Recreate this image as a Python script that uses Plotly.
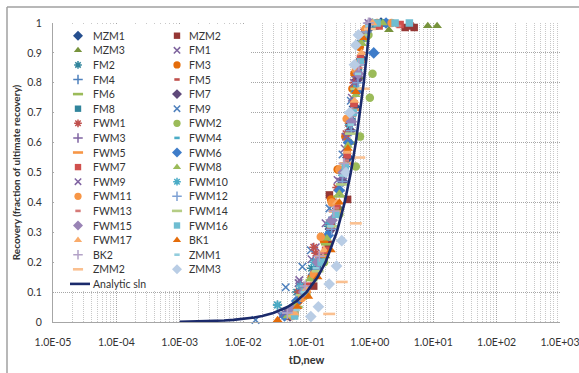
import plotly.graph_objects as go

# ---------------- axis ticks ----------------
X_TICK_VALS = [1e-5, 1e-4, 1e-3, 1e-2, 1e-1, 1, 10, 100, 1000]
X_TICK_TEXT = ["1.0E-05", "1.0E-04", "1.0E-03", "1.0E-02", "1.0E-01",
               "1.0E+00", "1.0E+01", "1.0E+02", "1.0E+03"]
Y_TICK_VALS = [0, 0.1, 0.2, 0.3, 0.4, 0.5, 0.6, 0.7, 0.8, 0.9, 1.0]
Y_TICK_TEXT = ["0", "0.1", "0.2", "0.3", "0.4", "0.5", "0.6", "0.7", "0.8", "0.9", "1"]

SERIES_NAMES = ["MZM1", "MZM2", "MZM3", "FM1", "FM2", "FM3", "FM4", "FM5", "FM6",
                "FM7", "FM8", "FM9", "FWM1", "FWM2", "FWM3", "FWM4", "FWM5", "FWM6",
                "FWM7", "FWM8", "FWM9", "FWM10", "FWM11", "FWM12", "FWM13", "FWM14",
                "FWM15", "FWM16", "FWM17", "BK1", "BK2", "ZMM1", "ZMM2", "ZMM3"]

# ---------------- data (tD,new ; recovery) ----------------
MZM1_T = [0.05, 0.09, 0.17, 0.31, 0.45, 0.57, 0.74, 1.05, 1.5]
MZM1_R = [0.03, 0.09, 0.21, 0.38, 0.55, 0.72, 0.88, 0.99, 1.0]
MZM2_T = [0.065, 0.13, 0.22, 0.23, 0.445, 0.47, 0.64, 0.88, 3.6, 4.3, 5.0]
MZM2_R = [0.03, 0.12, 0.26, 0.425, 0.41, 0.665, 0.84, 0.975, 0.985, 0.99, 0.985]
MZM3_T = [0.05, 0.1, 0.2, 0.33, 0.5, 0.68, 2.0, 8.2, 11.5]
MZM3_R = [0.02, 0.09, 0.22, 0.38, 0.6, 0.82, 0.977, 0.99, 0.99]
FM1_T = [0.04, 0.075, 0.14, 0.26, 0.4, 0.52, 0.7, 0.95]
FM1_R = [0.02, 0.13, 0.25, 0.4, 0.58, 0.75, 0.93, 1.0]
FM2_T = [0.035, 0.07, 0.12, 0.22, 0.36, 0.5, 0.66, 1.1, 1.8]
FM2_R = [0.057, 0.1, 0.18, 0.32, 0.5, 0.68, 0.86, 1.0, 1.0]
FM3_T = [0.05, 0.075, 0.12, 0.19, 0.244, 0.31, 0.41, 0.53, 0.57, 0.69, 1.3]
FM3_R = [0.02, 0.07, 0.15, 0.27, 0.41, 0.51, 0.62, 0.78, 0.83, 0.92, 1.0]
FM4_T = [0.045, 0.085, 0.155, 0.27, 0.4, 0.55, 0.68, 1.0]
FM4_R = [0.03, 0.1, 0.2, 0.35, 0.52, 0.7, 0.86, 0.99]
FM5_T = [0.06, 0.1, 0.18, 0.29, 0.43, 0.58, 0.75, 1.1]
FM5_R = [0.04, 0.12, 0.22, 0.36, 0.55, 0.73, 0.9, 1.0]
FM6_T = [0.07, 0.12, 0.21, 0.33, 0.48, 0.62, 0.78, 1.4]
FM6_R = [0.05, 0.14, 0.26, 0.42, 0.6, 0.77, 0.94, 1.0]
FM7_T = [0.055, 0.08, 0.14, 0.24, 0.37, 0.49, 0.63, 0.86]
FM7_R = [0.02, 0.08, 0.17, 0.31, 0.47, 0.64, 0.81, 0.97]
FM8_T = [0.06, 0.09, 0.15, 0.25, 0.38, 0.52, 0.66, 1.2, 1.6]
FM8_R = [0.03, 0.09, 0.19, 0.33, 0.49, 0.67, 0.84, 0.99, 1.0]
FM9_T = [0.0157, 0.047, 0.086, 0.117, 0.23, 0.37, 0.5, 0.72]
FM9_R = [0.007, 0.116, 0.185, 0.24, 0.38, 0.56, 0.74, 0.95]
FWM1_T = [0.05, 0.075, 0.13, 0.14, 0.3, 0.42, 0.56, 0.8]
FWM1_R = [0.03, 0.1, 0.25, 0.23, 0.45, 0.63, 0.8, 0.97]
FWM2_T = [0.065, 0.1, 0.19, 0.33, 0.6, 0.7, 1.0, 1.1, 0.95]
FWM2_R = [0.03, 0.09, 0.2, 0.36, 0.52, 0.62, 0.75, 0.83, 0.96]
FWM3_T = [0.055, 0.085, 0.15, 0.25, 0.36, 0.5, 0.63, 0.9]
FWM3_R = [0.04, 0.11, 0.21, 0.34, 0.48, 0.66, 0.82, 0.98]
FWM4_T = [0.05, 0.08, 0.14, 0.22, 0.34, 0.47, 0.61, 0.8]
FWM4_R = [0.02, 0.08, 0.18, 0.3, 0.46, 0.63, 0.79, 0.95]
FWM5_T = [0.06, 0.095, 0.17, 0.28, 0.41, 0.56, 0.7, 1.3]
FWM5_R = [0.03, 0.1, 0.22, 0.37, 0.53, 0.71, 0.87, 1.0]
FWM6_T = [0.045, 0.07, 0.13, 0.22, 0.33, 0.46, 0.62, 1.15, 1.8]
FWM6_R = [0.02, 0.07, 0.16, 0.29, 0.44, 0.6, 0.77, 0.9, 1.0]
FWM7_T = [0.055, 0.1, 0.2, 0.243, 0.3, 0.44, 0.56, 0.71, 1.4, 3.0]
FWM7_R = [0.03, 0.12, 0.24, 0.32, 0.39, 0.56, 0.73, 0.88, 0.99, 0.995]
FWM8_T = [0.05, 0.065, 0.12, 0.21, 0.33, 0.45, 0.6, 0.76, 1.6]
FWM8_R = [0.02, 0.06, 0.15, 0.28, 0.43, 0.59, 0.76, 0.93, 1.0]
FWM9_T = [0.045, 0.077, 0.12, 0.2, 0.309, 0.42, 0.56, 0.76]
FWM9_R = [0.03, 0.14, 0.21, 0.33, 0.475, 0.62, 0.8, 0.96]
FWM10_T = [0.0346, 0.08, 0.13, 0.23, 0.36, 0.48, 0.64, 0.92]
FWM10_R = [0.057, 0.12, 0.2, 0.33, 0.5, 0.66, 0.84, 0.99]
FWM11_T = [0.06, 0.085, 0.13, 0.168, 0.25, 0.33, 0.43, 0.6, 0.85, 2.2]
FWM11_R = [0.02, 0.08, 0.16, 0.285, 0.4, 0.51, 0.68, 0.843, 0.98, 1.0]
FWM12_T = [0.05, 0.08, 0.16, 0.25, 0.37, 0.51, 0.65, 0.87]
FWM12_R = [0.03, 0.09, 0.19, 0.31, 0.47, 0.64, 0.8, 0.97]
FWM13_T = [0.065, 0.09, 0.17, 0.29, 0.42, 0.54, 0.68, 1.05, 2.8]
FWM13_R = [0.05, 0.11, 0.23, 0.38, 0.54, 0.69, 0.85, 1.0, 0.99]
FWM14_T = [0.06, 0.085, 0.15, 0.26, 0.36, 0.5, 0.61, 0.82]
FWM14_R = [0.02, 0.09, 0.17, 0.32, 0.46, 0.63, 0.78, 0.96]
FWM15_T = [0.06, 0.09, 0.15, 0.25, 0.38, 0.51, 0.66, 1.0]
FWM15_R = [0.04, 0.1, 0.2, 0.34, 0.5, 0.67, 0.83, 1.0]
FWM16_T = [0.065, 0.095, 0.17, 0.29, 0.41, 0.55, 0.71, 1.3, 2.5, 4.2]
FWM16_R = [0.02, 0.1, 0.2, 0.36, 0.52, 0.7, 0.87, 1.0, 1.0, 1.0]
FWM17_T = [0.065, 0.1, 0.19, 0.3, 0.44, 0.57, 0.74, 1.1]
FWM17_R = [0.03, 0.11, 0.24, 0.4, 0.57, 0.74, 0.9, 1.0]
BK1_T = [0.035, 0.0718, 0.107, 0.15, 0.243, 0.33, 0.45, 0.6, 0.78]
BK1_R = [0.007, 0.051, 0.085, 0.15, 0.24, 0.4, 0.58, 0.77, 0.95]
BK2_T = [0.05, 0.095, 0.16, 0.27, 0.39, 0.52, 0.67, 0.95]
BK2_R = [0.03, 0.12, 0.22, 0.37, 0.53, 0.7, 0.86, 1.0]
ZMM1_T = [0.07, 0.09, 0.14, 0.24, 0.37, 0.5, 0.65, 0.95]
ZMM1_R = [0.04, 0.1, 0.18, 0.32, 0.49, 0.66, 0.83, 0.99]
ZMM2_T = [0.228, 0.36, 0.6, 0.68, 0.8, 1.0]
ZMM2_R = [0.027, 0.134, 0.33, 0.55, 0.78, 0.98]
ZMM3_T = [0.117, 0.154, 0.228, 0.298, 0.36, 0.42, 0.48, 0.57, 0.6, 0.66]
ZMM3_R = [0.018, 0.051, 0.127, 0.187, 0.272, 0.5, 0.7, 0.86, 0.926, 0.96]

ANALYTIC_T = [0.001, 0.0015, 0.002, 0.003, 0.005, 0.007, 0.01, 0.015, 0.02, 0.03,
              0.05, 0.07, 0.1, 0.15, 0.2, 0.3, 0.4, 0.5, 0.6, 0.7, 0.8, 0.9, 1.0]
ANALYTIC_R = [0.001, 0.0015, 0.002, 0.003, 0.005, 0.007, 0.01, 0.015, 0.02, 0.03,
              0.05, 0.07, 0.1, 0.15, 0.2, 0.3, 0.4, 0.5, 0.6, 0.7, 0.8, 0.9, 1.0]

SERIES_DATA = [
    (MZM1_T, MZM1_R), (MZM2_T, MZM2_R), (MZM3_T, MZM3_R), (FM1_T, FM1_R),
    (FM2_T, FM2_R), (FM3_T, FM3_R), (FM4_T, FM4_R), (FM5_T, FM5_R),
    (FM6_T, FM6_R), (FM7_T, FM7_R), (FM8_T, FM8_R), (FM9_T, FM9_R),
    (FWM1_T, FWM1_R), (FWM2_T, FWM2_R), (FWM3_T, FWM3_R), (FWM4_T, FWM4_R),
    (FWM5_T, FWM5_R), (FWM6_T, FWM6_R), (FWM7_T, FWM7_R), (FWM8_T, FWM8_R),
    (FWM9_T, FWM9_R), (FWM10_T, FWM10_R), (FWM11_T, FWM11_R), (FWM12_T, FWM12_R),
    (FWM13_T, FWM13_R), (FWM14_T, FWM14_R), (FWM15_T, FWM15_R), (FWM16_T, FWM16_R),
    (FWM17_T, FWM17_R), (BK1_T, BK1_R), (BK2_T, BK2_R), (ZMM1_T, ZMM1_R),
    (ZMM2_T, ZMM2_R), (ZMM3_T, ZMM3_R),
]

# ---------------- styles ----------------
SYMBOLS = ["diamond", "square", "tri", "x", "star", "circle", "plus", "sdash", "ldash",
           "diamond", "square", "x", "star", "circle", "plus", "sdash", "ldash",
           "diamond", "square", "tri", "x", "star", "circle", "plus", "sdash", "ldash",
           "diamond", "square", "tri", "tri", "plus", "sdash", "ldash", "diamond"]
COLORS = ["#264F8F", "#953735", "#77933C", "#7E649E", "#31859C", "#E46C0A", "#4F81BD",
          "#C0504D", "#9BBB59", "#5F497A", "#31859C", "#4F81BD", "#C0504D", "#9BBB59",
          "#8064A2", "#4BACC6", "#F79646", "#3E7CC9", "#D0504D", "#9BBB59", "#8064A2",
          "#4BACC6", "#F79646", "#7EA1D4", "#D57A78", "#B5CD85", "#9983B5", "#6FBDD1",
          "#F9AB6B", "#E46C0A", "#B3A2C7", "#93CDDD", "#FAC090", "#B9CDE5"]
LINE_COLOR = "#1B2A6B"
TEXT_COLOR = "#333333"


def marker_style(kind, color, scale=1.0):
    table = {
        "diamond": ("diamond", 9, 0),
        "square": ("square", 7.5, 0),
        "tri": ("triangle-up", 8.5, 0),
        "circle": ("circle", 8.5, 0),
        "x": ("x-thin", 7.5, 1.5),
        "star": ("asterisk", 7.5, 1.5),
        "plus": ("cross-thin", 8, 1.5),
        "sdash": ("line-ew", 4.5, 2.6),
        "ldash": ("line-ew", 8.5, 2.6),
    }
    sym, size, lw = table[kind]
    return dict(symbol=sym, size=size * scale, color=color,
                line=dict(color=color, width=lw))


# ---------------- geometry ----------------
W, H = 579, 373
ML, MR, MT, MB = 53, 19, 23, 51
PW, PH = W - ML - MR, H - MT - MB
X_LOG_MIN, X_LOG_MAX = -5, 3


def fx(px):
    return (px - ML) / PW


def fy(py):
    return (H - MB - py) / PH


def px_to_t(px):
    return 10 ** (X_LOG_MIN + fx(px) * (X_LOG_MAX - X_LOG_MIN))


fig = go.Figure()

for name, (t, r), kind, col in zip(SERIES_NAMES, SERIES_DATA, SYMBOLS, COLORS):
    fig.add_trace(go.Scatter(x=t, y=r, mode="markers", name=name,
                             marker=marker_style(kind, col), cliponaxis=False,
                             showlegend=False))

fig.add_trace(go.Scatter(x=ANALYTIC_T, y=ANALYTIC_R, mode="lines", name="Analytic sln",
                         line=dict(color=LINE_COLOR, width=2.6), showlegend=False))

# legend box: white, between gridlines and data
fig.add_shape(type="rect", xref="x", yref="y", layer="between",
              x0=px_to_t(54), x1=px_to_t(250), y0=fy(290), y1=fy(25),
              fillcolor="white", line=dict(width=0))

# legend symbols on an overlay axis pair + text as annotations
ROW0, ROW_GAP = 35.7, 14.6
COL_MARK = [78, 177]
COL_TEXT = [91, 187]
annotations = []
for i, (name, kind, col) in enumerate(zip(SERIES_NAMES, SYMBOLS, COLORS)):
    row, c = divmod(i, 2)
    py = ROW0 + ROW_GAP * row
    fig.add_trace(go.Scatter(x=[fx(COL_MARK[c])], y=[fy(py)], mode="markers",
                             xaxis="x2", yaxis="y2", showlegend=False, hoverinfo="skip",
                             marker=marker_style(kind, col, 0.85), cliponaxis=False))
    annotations.append(dict(x=fx(COL_TEXT[c]), y=fy(py), xref="paper", yref="paper",
                            text=name, showarrow=False, xanchor="left", yanchor="middle",
                            font=dict(family="Lato", size=10.5, color=TEXT_COLOR)))
py = ROW0 + ROW_GAP * 17
fig.add_trace(go.Scatter(x=[fx(70), fx(90)], y=[fy(py), fy(py)], mode="lines",
                         xaxis="x2", yaxis="y2", showlegend=False, hoverinfo="skip",
                         line=dict(color=LINE_COLOR, width=2.6), cliponaxis=False))
annotations.append(dict(x=fx(91), y=fy(py), xref="paper", yref="paper",
                        text="Analytic sln", showarrow=False, xanchor="left",
                        yanchor="middle", font=dict(family="Lato", size=10.5, color=TEXT_COLOR)))

# outer chart frame (left and top edges visible)
fig.add_shape(type="line", xref="paper", yref="paper", x0=fx(7), x1=fx(7),
              y0=fy(7), y1=fy(400), line=dict(color="#A0A0A0", width=1.5))
fig.add_shape(type="line", xref="paper", yref="paper", x0=fx(7), x1=fx(600),
              y0=fy(7), y1=fy(7), line=dict(color="#A0A0A0", width=1.5))

GRID = "#A6A6A6"
TICK_FONT = dict(family="Lato", size=10.5, color=TEXT_COLOR)
fig.update_layout(
    width=W, height=H,
    margin=dict(l=ML, r=MR, t=MT, b=MB, autoexpand=False),
    paper_bgcolor="white", plot_bgcolor="white",
    showlegend=False,
    font=dict(family="Lato", size=11, color=TEXT_COLOR),
    annotations=annotations,
    xaxis=dict(type="log", range=[X_LOG_MIN, X_LOG_MAX + 0.0001], tickmode="array",
               tickvals=X_TICK_VALS, ticktext=X_TICK_TEXT, showgrid=True, gridcolor=GRID,
               griddash="1px,1px", gridwidth=1, showline=True, linecolor="#A6A6A6",
               linewidth=1, ticks="", ticklabelstandoff=10, ticklabeloverflow="allow",
               zeroline=False, automargin=False, tickfont=TICK_FONT,
               minor=dict(dtick="D1", showgrid=True, gridcolor="#C8C8C8",
                          griddash="1px,1px", gridwidth=1),
               title=dict(text="<b>tD,new</b>", standoff=9,
                          font=dict(family="Lato", size=11, color=TEXT_COLOR))),
    yaxis=dict(range=[0, 1], tickmode="array", tickvals=Y_TICK_VALS, ticktext=Y_TICK_TEXT,
               showgrid=True, gridcolor=GRID, griddash="1px,1px", gridwidth=1,
               showline=True, linecolor="#A6A6A6", linewidth=1, ticks="",
               ticklabelstandoff=8, zeroline=False, automargin=False, tickfont=TICK_FONT,
               title=dict(text="<b>Recovery (fraction of ultimate recovery)</b>", standoff=4,
                          font=dict(family="Lato", size=10, color=TEXT_COLOR))),
    xaxis2=dict(overlaying="x", range=[0, 1], visible=False, fixedrange=True),
    yaxis2=dict(overlaying="y", range=[0, 1], visible=False, fixedrange=True),
)

fig.write_html("out.html")
